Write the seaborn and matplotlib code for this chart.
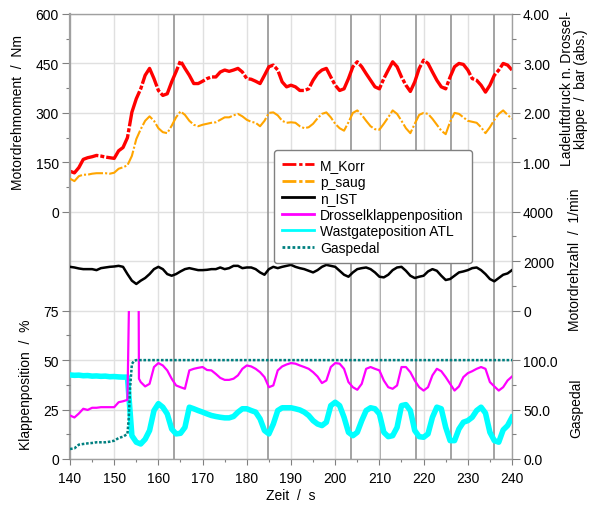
import numpy as np
import pandas as pd
import matplotlib
matplotlib.use("Agg")
import matplotlib.pyplot as plt
from matplotlib.lines import Line2D
from matplotlib.transforms import Bbox, TransformedBbox
from matplotlib.ticker import FixedLocator, FormatStrFormatter
import seaborn as sns

plt.rcParams['font.family'] = ['Liberation Sans', 'DejaVu Sans']

# ---------------- data ----------------
t = list(range(140, 241))

m_korr = [123, 118, 134, 159, 164, 167, 171, 169, 166, 164, 162,
          185, 195, 225, 302, 343, 373, 414, 435, 404, 368,
          353, 358, 394, 425, 458, 435, 414, 389, 389, 396,
          404, 409, 409, 424, 430, 426, 430, 435, 424, 404,
          402, 396, 389, 414, 440, 445, 430, 394, 379, 384,
          379, 368, 368, 373, 399, 419, 430, 435, 409, 384,
          368, 373, 404, 440, 455, 440, 419, 399, 379, 373,
          404, 430, 455, 440, 409, 384, 365, 394, 435, 460,
          450, 424, 399, 379, 373, 409, 440, 450, 447, 430,
          404, 399, 384, 363, 384, 414, 430, 450, 445, 430]

p_saug = [0.67, 0.62, 0.72, 0.75, 0.75, 0.77, 0.78, 0.78, 0.78, 0.77, 0.79,
          0.87, 0.90, 0.94, 1.13, 1.47, 1.67, 1.84, 1.93, 1.84, 1.69,
          1.61, 1.59, 1.74, 1.91, 2.03, 1.96, 1.84, 1.76, 1.73, 1.76,
          1.78, 1.80, 1.81, 1.86, 1.91, 1.91, 1.95, 1.98, 1.93, 1.86,
          1.82, 1.80, 1.73, 1.84, 2.00, 2.01, 1.95, 1.84, 1.80, 1.81,
          1.80, 1.73, 1.69, 1.71, 1.78, 1.89, 1.98, 2.01, 1.91, 1.78,
          1.69, 1.64, 1.81, 2.00, 2.05, 1.96, 1.84, 1.73, 1.67, 1.66,
          1.78, 1.91, 2.05, 1.98, 1.84, 1.69, 1.59, 1.78, 1.96, 2.00,
          1.98, 1.88, 1.76, 1.64, 1.57, 1.82, 2.00, 1.98, 1.91, 1.84,
          1.82, 1.80, 1.71, 1.59, 1.71, 1.86, 1.98, 2.05, 1.96, 1.88]

n_ist = [1773, 1747, 1707, 1680, 1680, 1680, 1640, 1720, 1747, 1773, 1787,
         1813, 1773, 1480, 1213, 1080, 1213, 1320, 1480, 1680, 1773,
         1680, 1480, 1413, 1480, 1587, 1680, 1720, 1680, 1640, 1640,
         1653, 1680, 1680, 1747, 1680, 1720, 1813, 1813, 1720, 1747,
         1747, 1680, 1547, 1453, 1680, 1773, 1720, 1773, 1813, 1853,
         1773, 1720, 1680, 1613, 1547, 1640, 1773, 1853, 1813, 1773,
         1613, 1453, 1373, 1547, 1680, 1720, 1747, 1680, 1547, 1373,
         1347, 1453, 1640, 1747, 1773, 1613, 1413, 1320, 1373, 1413,
         1587, 1680, 1613, 1413, 1240, 1280, 1413, 1547, 1587, 1640,
         1720, 1747, 1640, 1480, 1280, 1187, 1320, 1453, 1507, 1640]

t_dk = list(range(140, 154)) + [153.5, 155.5, 155.6] + list(range(156, 241))
drossel = [22, 21, 23, 25.4, 24.8, 25.9, 25.9, 26.2, 26.2, 26.2, 26.2, 28.7, 29.2, 29.9,
           100, 100, 40.6,
           38.9, 36.7, 38, 46.5, 48.5,
           47.3, 44.8, 40.6, 37.2, 36.3, 35.5, 44.8, 45.6, 46.1, 46.5,
           45, 44.8, 43, 41, 40, 40, 40.6, 42.3, 45.6, 47.3,
           46.8, 45.6, 43.9, 41.4, 36.3, 37.2, 44.8, 46.8, 47.8, 48.5,
           48.2, 47.3, 46.5, 45.6, 43.9, 41.7, 38.4, 39.7, 46.5, 48.5,
           48.2, 45.6, 38.9, 36.3, 35, 38, 45.6, 46.5, 45.6, 44.8,
           39.7, 36.3, 35.5, 37.2, 46.5, 46.5, 43.9, 39.7, 36.3, 34.6,
           36.3, 42.3, 45.6, 44.4, 41.4, 38, 34.6, 36.7, 41.4, 43.4,
           44.4, 45.6, 46.5, 45.6, 38.9, 36.7, 34.6, 36.3, 39.7, 41.7]

wastgate = [42.5, 42.3, 42.4, 42.1, 42.2, 41.9, 42.0, 41.8, 41.9, 41.6, 41.7,
            41.5, 41.4, 41.4, 11.8, 8.5, 7.6, 10, 14.4, 24.5, 28,
            26.2, 22.8, 15.2, 12.7, 13, 16, 26.2, 25.4, 24.5, 23.7,
            22.8, 22, 21.5, 21.1, 20.8, 20.8, 21.5, 23.7, 25.4, 25.4,
            24.5, 23.7, 20.3, 14.4, 12.7, 17.7, 24.5, 25.9, 25.9, 25.9,
            25.4, 24.8, 23.7, 22, 19.4, 17.7, 16.9, 18.6, 27, 28.7,
            27, 21.1, 13.5, 11.8, 13.5, 19.4, 24.5, 25.9, 25.4, 22.8,
            13.5, 11.3, 11.8, 16, 27, 27.5, 24.5, 14.4, 11.3, 11,
            12.7, 21.1, 26.2, 25.4, 16, 9.3, 9.3, 15.2, 18.6, 19.4,
            21.1, 24.5, 26.2, 23.2, 13.5, 9.3, 8.5, 14.7, 16.9, 21.1]

t_gas = list(range(140, 154)) + [153.3, 153.6, 154, 154.5, 155, 240]
gaspedal = [10.1, 10.8, 14.5, 15.2, 15.8, 16.2, 16.9, 16.9, 16.9, 17.5, 18.5, 21.2, 22.6, 25.3,
            42, 72, 96, 99.4, 100, 100]

x_ticks = list(range(140, 241, 10))
nm_ticks = [0, 150, 300, 450, 600]
klappe_ticks = [0, 25, 50, 75]
bar_ticks = [1.0, 2.0, 3.0, 4.0]
rpm_ticks = [0, 2000, 4000]
gas_ticks = [0, 50, 100]
marker_times = [163.5, 184.8, 203.6, 210.2, 218.3, 226.3, 235.9]

labels = ["M_Korr", "p_saug", "n_IST", "Drosselklappenposition",
          "Wastgateposition ATL", "Gaspedal"]

# ---------------- figure ----------------
W, H = 590, 506
L, R, T, B = 70, 512, 15, 460
fig = plt.figure(figsize=(W / 100, H / 100), dpi=100)
ax = fig.add_axes([L / W, 1 - B / H, (R - L) / W, (B - T) / H])
ax_k = ax.twinx()
ax_p = ax.twinx()
ax_n = ax.twinx()
ax_g = ax.twinx()

GRID = '#e0e0e0'
DARK = '#939393'
TICKC = '#808080'

ax.set_xlim(140, 240)
ax.xaxis.set_major_locator(FixedLocator(x_ticks))
ax.xaxis.set_minor_locator(FixedLocator(list(range(145, 240, 10))))
ax.tick_params(axis='x', which='major', length=4.5, width=0.8, color=TICKC,
               labelsize=10, pad=4)
ax.tick_params(axis='x', which='minor', length=2.5, width=0.8, color=TICKC)
ax.grid(axis='x', which='major', color=GRID, lw=1.0, zorder=0)
ax.set_axisbelow(True)
for lv in np.arange(-750, 601, 150):
    ax.axhline(lv, color=GRID, lw=1.0, zorder=0)
for mt in marker_times:
    ax.axvline(mt, color=DARK, lw=1.2, zorder=0.5)
for s in ax.spines.values():
    s.set_color('#a0a0a0')
    s.set_linewidth(1.0)
ax.spines['left'].set_linewidth(1.6)


def style_y(a, side, major, minor, lim, fmt=None):
    a.set_ylim(lim)
    a.yaxis.set_major_locator(FixedLocator(major))
    a.yaxis.set_minor_locator(FixedLocator(minor))
    if fmt:
        a.yaxis.set_major_formatter(FormatStrFormatter(fmt))
    if side == 'left':
        a.yaxis.tick_left()
    else:
        a.yaxis.tick_right()
    a.tick_params(axis='y', which='major', direction='out', length=5.5, width=0.8,
                  color=TICKC, labelsize=10, pad=2.5, labelcolor='black')
    a.tick_params(axis='y', which='minor', direction='out', length=3, width=0.8,
                  color=TICKC)


style_y(ax, 'left', nm_ticks, [75, 225, 375, 525], (-750, 600))
style_y(ax_k, 'left', klappe_ticks, [12.5, 37.5, 62.5], (0, 225))
style_y(ax_p, 'right', bar_ticks, [1.5, 2.5, 3.5], (-5, 4), '%.2f')
style_y(ax_n, 'right', rpm_ticks, [1000, 3000], (-6000, 12000))
style_y(ax_g, 'right', gas_ticks, [25, 75], (0, 450), '%.1f')
for a in (ax_k, ax_p, ax_n, ax_g):
    for s in a.spines.values():
        s.set_visible(False)
    a.set_xlim(140, 240)

RED, ORANGE, BLACK = '#ff0000', '#ffa500', '#000000'
MAG, CYAN, TEAL = '#ff00ff', '#00ffff', '#008080'
ls_red = (0, (11.0, 0.6, 1.2, 0.6))
ls_orange = (0, (7.2, 1.0, 1.0, 1.0))
ls_teal = (0, (1.05, 0.7))

kw = dict(estimator=None, errorbar=None, legend=False)
sns.lineplot(x=t, y=m_korr, ax=ax, color=RED, lw=2.4, linestyle=ls_red, **kw)
sns.lineplot(x=t, y=p_saug, ax=ax_p, color=ORANGE, lw=1.5, linestyle=ls_orange, **kw)
sns.lineplot(x=t, y=n_ist, ax=ax_n, color=BLACK, lw=1.8, **kw)
sns.lineplot(x=t, y=wastgate, ax=ax_k, color=CYAN, lw=4.0, **kw)
sns.lineplot(x=t_dk, y=drossel, ax=ax_k, color=MAG, lw=1.6, **kw)
line_dk = ax_k.lines[-1]
line_dk.set_clip_box(TransformedBbox(Bbox([[140, -10], [240, 75]]), ax_k.transData))
sns.lineplot(x=t_gas, y=gaspedal, ax=ax_g, color=TEAL, lw=1.8, linestyle=ls_teal, **kw)
for a in (ax, ax_k, ax_p, ax_n, ax_g):
    a.set_xlabel('')
    a.set_ylabel('')

handles = [Line2D([], [], color=RED, lw=2, linestyle=(0, (5, 1, 1.2, 1))),
           Line2D([], [], color=ORANGE, lw=2, linestyle=(0, (5, 1, 1.2, 1))),
           Line2D([], [], color=BLACK, lw=2),
           Line2D([], [], color=MAG, lw=2),
           Line2D([], [], color=CYAN, lw=2),
           Line2D([], [], color=TEAL, lw=2, linestyle=(0, (1.0, 0.8)))]
leg = fig.legend(handles, labels, loc='upper left',
                 bbox_to_anchor=(274 / W, 1 - 151 / H), bbox_transform=fig.transFigure,
                 borderaxespad=0, fontsize=10, frameon=True, fancybox=True,
                 framealpha=1, edgecolor='#808080', borderpad=0.6,
                 labelspacing=0.18, handlelength=2.3, handletextpad=0.4)
leg.get_frame().set_linewidth(1.0)

fig.text(291 / W, 1 - 496 / H, 'Zeit  /  s', ha='center', va='center', fontsize=10)
fig.text(18.5 / W, 1 - 113 / H, 'Motordrehmoment  /  Nm', rotation=90,
         ha='center', va='center', fontsize=10)
fig.text(26 / W, 1 - 385 / H, 'Klappenposition  /  %', rotation=90,
         ha='center', va='center', fontsize=10)
fig.text(574 / W, 1 - 89 / H, 'Ladeluftdruck n. Drossel-\nklappe  /  bar (abs.)',
         rotation=90, ha='center', va='center', multialignment='center', fontsize=10,
         linespacing=1.05)
fig.text(575 / W, 1 - 260 / H, 'Motordrehzahl  /  1/min', rotation=90,
         ha='center', va='center', fontsize=10)
fig.text(576 / W, 1 - 408 / H, 'Gaspedal', rotation=90,
         ha='center', va='center', fontsize=10)

fig.savefig('out.png', dpi=100)
